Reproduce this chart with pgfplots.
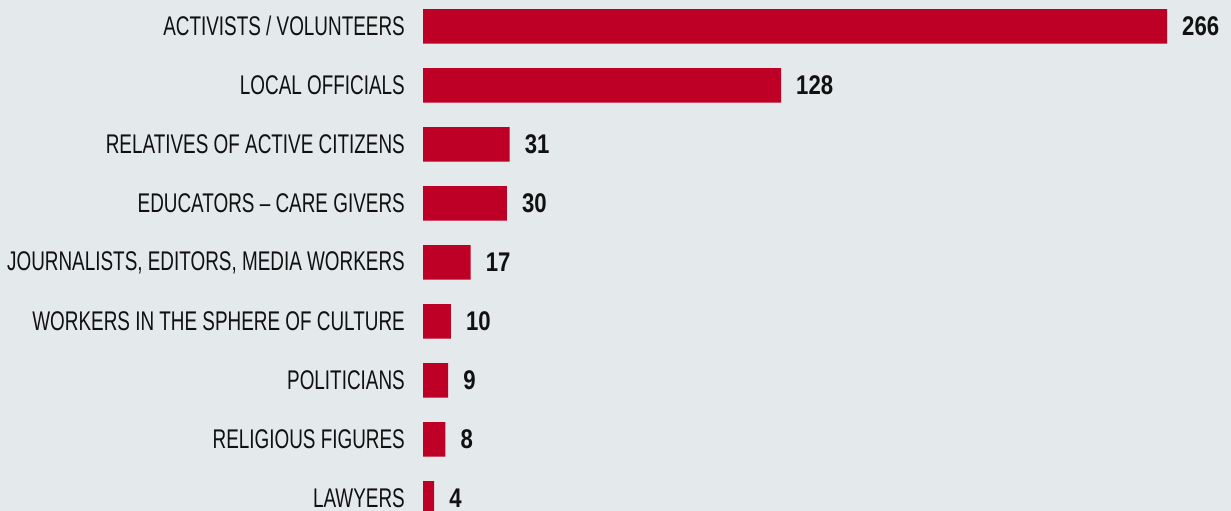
\documentclass[border=0pt]{standalone}
\usepackage{fontspec}
\setmainfont{Liberation Sans}[FakeStretch=0.70]
\newfontfamily\numfont{Liberation Sans}[FakeStretch=0.82]
\usepackage{pgfplots}
\pgfplotsset{compat=1.18}
\definecolor{bg}{RGB}{228,233,236}
\definecolor{barred}{RGB}{190,0,38}
\definecolor{txt}{RGB}{17,17,17}

\begin{document}
\begin{tikzpicture}[x=1pt,y=1pt]
\useasboundingbox (0,0) rectangle (1231,511);
\fill[bg] (0,0) rectangle (1231,511);
\clip (0,0) rectangle (1231,511);
\begin{axis}[
  at={(423pt,-16.8pt)}, anchor=south west,
  scale only axis, width=744pt, height=531pt,
  xbar, bar width=34.5pt, bar shift=0pt,
  xmin=0, xmax=266, ymin=-0.5, ymax=8.5, y dir=reverse,
  axis line style={draw=none}, major tick length=0pt,
  xtick=\empty, ytick={0,...,8},
  /pgf/number format/assume math mode=true,
  yticklabels={ACTIVISTS / VOLUNTEERS, LOCAL OFFICIALS, RELATIVES OF ACTIVE CITIZENS,
    EDUCATORS -- CARE GIVERS, {JOURNALISTS, EDITORS, MEDIA WORKERS},
    WORKERS IN THE SPHERE OF CULTURE, POLITICIANS, RELIGIOUS FIGURES, LAWYERS},
  yticklabel style={font=\fontsize{27}{30}\selectfont, anchor=east, inner sep=0pt, xshift=-18pt, text=txt},
  nodes near coords,
  nodes near coords style={anchor=west, inner sep=0pt, xshift=15pt, text=txt,
    font=\numfont\bfseries\fontsize{27}{30}\selectfont},
  clip=false,
]
%% counts per group
\addplot[fill=barred, draw=none] coordinates {
  (266,0) (128,1) (31,2) (30,3) (17,4) (10,5) (9,6) (8,7) (4,8)
};
\end{axis}
\end{tikzpicture}
\end{document}
